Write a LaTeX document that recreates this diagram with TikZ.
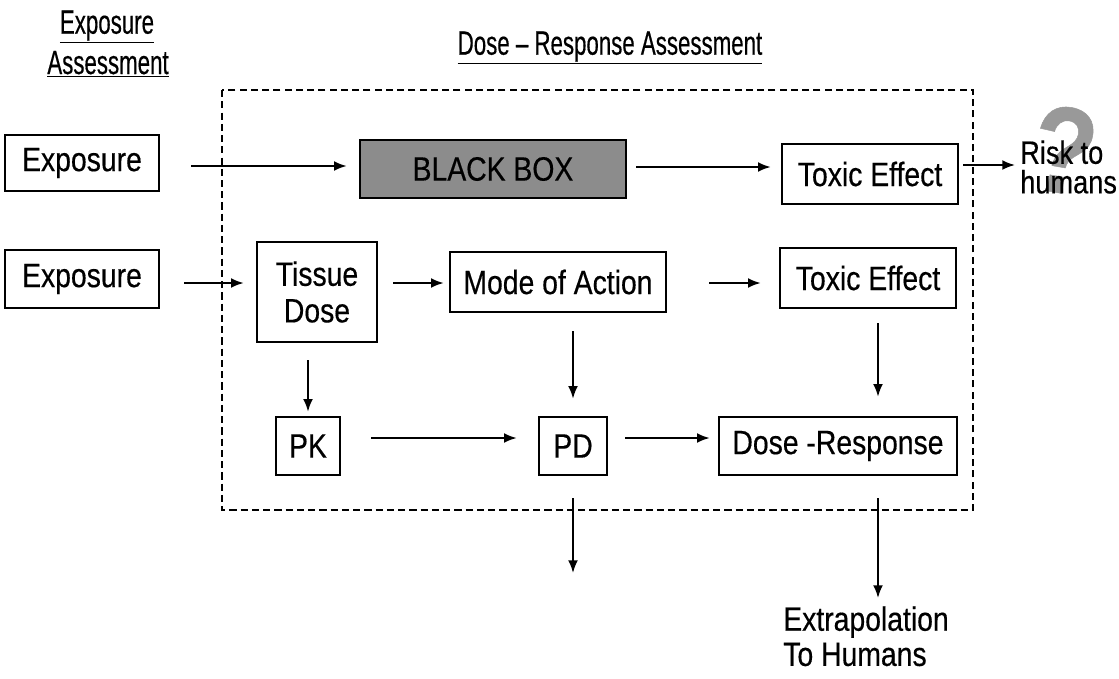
\documentclass[tikz,border=0pt]{standalone}
\usepackage{fontspec}
\setmainfont{Liberation Sans}[FakeStretch=0.84,FakeBold=0.4]
\newfontfamily\headfont{Liberation Sans}[FakeStretch=0.66,FakeBold=0.4,Ligatures=TeX]
\usetikzlibrary{arrows.meta,positioning,calc}

\begin{document}
\begin{tikzpicture}[x=0.025cm,y=-0.025cm]
\tikzstyle{box}=[draw,line width=1.8pt,inner sep=0pt,font=\fontsize{24}{26}\selectfont]
\tikzstyle{arr}=[line width=1.3pt,-{Latex[length=9pt,width=7pt]}]
\tikzstyle{title}=[inner sep=0pt,font=\headfont\fontsize{24}{26}\selectfont]
\useasboundingbox (0,0) rectangle (1119,678);

% headings
\node (expT) [title] at (107,27) {\underline{Exposure}};
\node (expA) [title] at (108,64) {\underline{Assessment}};
\node (drT) [title] at (610,48) {\underline{Dose – Response Assessment}};

% dashed frame
\draw [line width=1.8pt,dash pattern=on 5pt off 3pt] (222,90) rectangle (973,510);

% row 1
\node (exp1) [box, minimum width=3.85cm, minimum height=1.4cm] at (82,163) {Exposure};
\node (bb) [box, fill=black!45, minimum width=6.65cm, minimum height=1.45cm] at (493,169) {BLACK BOX};
\node (tox1) [box, minimum width=4.4cm, minimum height=1.5cm] at (870,174) {Toxic Effect};
\node (qm) [text=black!40, font=\fontsize{88}{88}\bfseries\selectfont, rotate=-10] at (1064,150) {?};
\node (risk) [anchor=west, align=left, inner sep=0pt, font=\fontsize{23}{21}\selectfont] at (1020,167) {Risk to\\humans};

% row 2
\node (exp2) [box, minimum width=3.85cm, minimum height=1.45cm] at (82,279) {Exposure};
\node (tissue) [box, align=center, minimum width=3cm, minimum height=2.5cm] at (317,292) {Tissue\\Dose};
\node (moa) [box, minimum width=5.4cm, minimum height=1.5cm] at (558,282) {Mode of Action};
\node (tox2) [box, minimum width=4.4cm, minimum height=1.5cm] at (868,278) {Toxic Effect};

% row 3
\node (pk) [box, minimum width=1.6cm, minimum height=1.45cm] at (308,446) {PK};
\node (pd) [box, minimum width=1.7cm, minimum height=1.45cm] at (573,446) {PD};
\node (dr) [box, minimum width=5.95cm, minimum height=1.45cm] at (838,446) {Dose -Response};
\node (ext) [anchor=north west, align=left, inner sep=0pt, font=\fontsize{24}{25}\selectfont] at (783,606) {Extrapolation\\To Humans};
\coordinate (pdout) at (573,573);

% arrows
\draw [arr] ($(exp1.east)+(31,3)$) -- ($(bb.west)+(-12,-3)$);
\draw [arr] ($(bb.east)+(9,-2)$) -- ($(tox1.west)+(-10,-7)$);
\draw [arr] ($(tox1.east)+(4,-9)$) -- ($(risk.west)+(-5,-2)$);
\draw [arr] ($(exp2.east)+(24,4)$) -- ($(tissue.west)+(-12,-9)$);
\draw [arr] ($(tissue.east)+(15,-9)$) -- ($(moa.west)+(-5,1)$);
\draw [arr] ($(moa.east)+(42,1)$) -- ($(tox2.west)+(-18,5)$);
\draw [arr] ($(tissue.south -| pk.north)+(0,17)$) -- ($(pk.north)+(0,-4)$);
\draw [arr] ($(moa.south -| pd.north)+(0,18)$) -- ($(pd.north)+(0,-17)$);
\draw [arr] ($(tox2.south)+(10,14)$) -- ($(dr.north)+(40,-19)$);
\draw [arr] ($(pk.east)+(30,-8)$) -- ($(pd.west)+(-21,-8)$);
\draw [arr] ($(pd.east)+(17,-8)$) -- ($(dr.west)+(-8,-8)$);
\draw [arr] ($(pd.south)+(0,22)$) -- (pdout);
\draw [arr] ($(dr.south)+(40,22)$) -- ($(ext.north west)+(95,-8)$);
\end{tikzpicture}
\end{document}
